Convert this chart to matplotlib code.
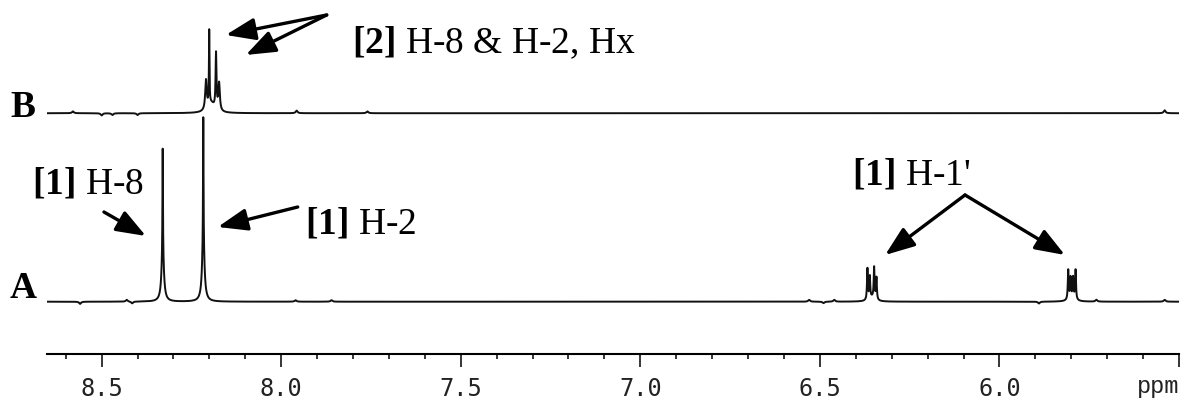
import numpy as np
import matplotlib
matplotlib.use('Agg')
import matplotlib.pyplot as plt

plt.rcParams['mathtext.fontset'] = 'custom'
plt.rcParams['mathtext.rm'] = 'Liberation Serif'
plt.rcParams['mathtext.bf'] = 'Liberation Serif:bold'

# peak lists: (ppm, height, half width in ppm)
# spectrum A, [1]
a_ppm = [8.330, 8.330, 8.217, 8.217,
         6.3676, 6.361, 6.349, 6.3425, 6.355,
         5.8085, 5.802, 5.795, 5.788, 5.798]
a_height = [0.58, 0.25, 0.70, 0.30,
            0.17, 0.12, 0.17, 0.12, 0.02,
            0.16, 0.11, 0.11, 0.16, 0.02]
a_width = [0.0008, 0.004, 0.0008, 0.004,
           0.0014, 0.0014, 0.0014, 0.0014, 0.01,
           0.0014, 0.0014, 0.0014, 0.0014, 0.01]

# spectrum B, [2]
b_ppm = [8.195, 8.2095, 8.2005, 8.1815, 8.173]
b_height = [0.05, 0.16, 0.40, 0.30, 0.15]
b_width = [0.012, 0.0025, 0.0009, 0.0015, 0.0025]

# tiny wiggles on the baselines
a_small_ppm = [8.56, 8.43, 8.415, 7.96, 7.86, 6.53, 6.49, 6.46, 5.89, 5.73, 5.54]
a_small_h = [-0.012, 0.010, -0.010, 0.008, 0.008, 0.010, -0.008, 0.010, -0.010, 0.010, 0.010]
b_small_ppm = [8.58, 8.50, 8.47, 8.40, 7.957, 7.76, 5.54]
b_small_h = [0.010, -0.012, -0.010, -0.010, 0.014, 0.010, 0.016]

offset_b = 1.022

ticks = [8.5, 8.0, 7.5, 7.0, 6.5, 6.0, 5.5]
tick_labels = ['8.5', '8.0', '7.5', '7.0', '6.5', '6.0', '']


def lorentz(x, x0, h, w):
    return h * w**2 / ((x - x0)**2 + w**2)


x = np.linspace(8.653, 5.5, 60000)
ya = np.zeros_like(x)
for p, h, w in zip(a_ppm, a_height, a_width):
    ya += lorentz(x, p, h, w)
for p, h in zip(a_small_ppm, a_small_h):
    ya += lorentz(x, p, h, 0.003)
yb = np.zeros_like(x)
for p, h, w in zip(b_ppm, b_height, b_width):
    yb += lorentz(x, p, h, w)
for p, h in zip(b_small_ppm, b_small_h):
    yb += lorentz(x, p, h, 0.003)

fig = plt.figure(figsize=(11.82, 4.0), dpi=100)
ax = fig.add_axes([46.7 / 1182, 46 / 400, (1179 - 46.7) / 1182, 354 / 400])
ax.plot(x, ya, color='#111111', lw=1.4)
ax.plot(x, yb + offset_b, color='#111111', lw=1.4)

ax.set_xlim(8.653, 5.5)
ax.set_ylim(-0.2836, 1.636)
for s in ['top', 'left', 'right']:
    ax.spines[s].set_visible(False)
ax.spines['bottom'].set_linewidth(1.5)
ax.set_yticks([])
ax.set_xticks(ticks)
ax.set_xticklabels(tick_labels, family='DejaVu Sans Mono', fontsize=17, color='#222222')
ax.set_xticks(np.arange(5.6, 8.65, 0.1), minor=True)
ax.tick_params(axis='x', which='major', length=9.6, width=1.1, pad=7)
ax.tick_params(axis='x', which='minor', length=3.8, width=1.1)
ax.text(5.5, -0.497, 'ppm', family='Liberation Mono', fontsize=17, color='#222222',
        ha='right', va='baseline')

serif = dict(family='Liberation Serif', fontsize=27, va='baseline', clip_on=False)
ax.text(8.755, 1.0016, 'B', fontweight='bold', **serif)
ax.text(8.755, 0.02, 'A', fontweight='bold', **serif)
ax.text(8.694, 0.589, r'$\mathbf{[1]}$ H-8', **serif)
ax.text(7.9345, 0.3725, r'$\mathbf{[1]}$ H-2', **serif)
ax.text(6.41, 0.633, r"$\mathbf{[1]}$ H-1'", **serif)
ax.text(7.804, 1.349, r'$\mathbf{[2]}$ H-8 & H-2, Hx', **serif)

arrow = dict(arrowstyle='-|>,head_length=1.2,head_width=0.45', color='black',
             lw=2.4, mutation_scale=15, shrinkA=0, shrinkB=0)


def px(xp, yp):
    return (8.5 - (xp - 101.7) / 359.5, (301.7 - yp) / 184.4)


for tail, tip in [((104, 212), (146, 236)),
                  ((298, 207), (218, 227)),
                  ((966, 195), (886, 255)),
                  ((966, 195), (1066, 255)),
                  ((327, 15), (226, 35)),
                  ((327, 15), (246, 55))]:
    ax.annotate('', xy=px(*tip), xytext=px(*tail), arrowprops=arrow, annotation_clip=False)

fig.savefig('out.png', dpi=100)
